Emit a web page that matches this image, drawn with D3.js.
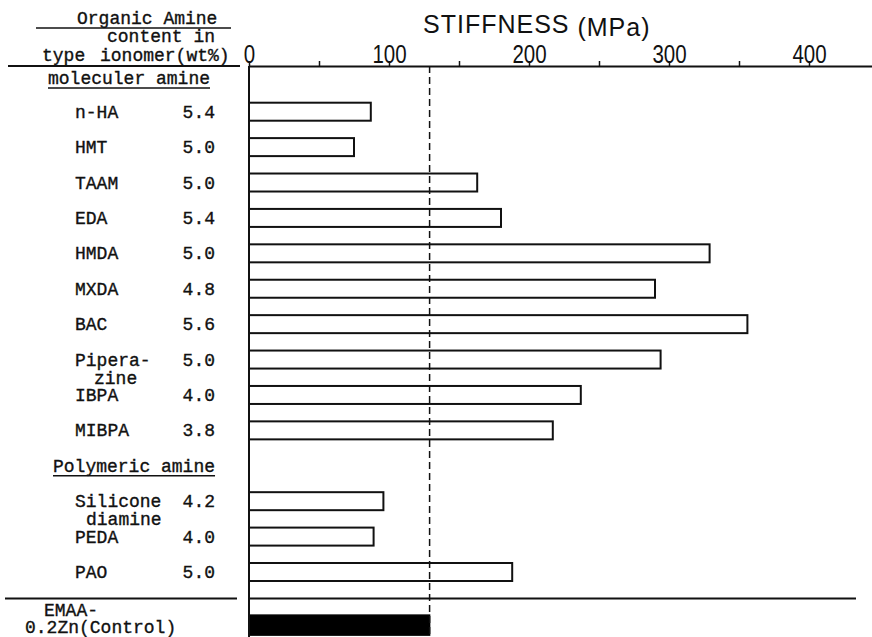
<!DOCTYPE html>
<html>
<head>
<meta charset="utf-8">
<script src="https://cdn.jsdelivr.net/npm/d3@7"></script>
<style>
  body { margin: 0; background: #fff; }
  .mono { font-family: "Liberation Mono", "DejaVu Sans Mono", monospace; font-size: 18px; fill: #111; stroke: #111; stroke-width: 0.35px; }
  .sans { font-family: "Liberation Sans", Arial, sans-serif; fill: #111; }
</style>
</head>
<body>
<svg id="chart"></svg>
<script>
// molecular amines
const molecularTypes = [["n-HA"], ["HMT"], ["TAAM"], ["EDA"], ["HMDA"], ["MXDA"], ["BAC"], ["Pipera-", "zine"], ["IBPA"], ["MIBPA"]];
const molecularContent = [5.4, 5.0, 5.0, 5.4, 5.0, 4.8, 5.6, 5.0, 4.0, 3.8];
const molecularStiffness = [87, 75, 163, 180, 329, 290, 356, 294, 237, 217];

// polymeric amines
const polymericTypes = [["Silicone", "diamine"], ["PEDA"], ["PAO"]];
const polymericContent = [4.2, 4.0, 5.0];
const polymericStiffness = [96, 89, 188];

// control
const controlType = ["EMAA-", "0.2Zn(Control)"];
const controlStiffness = 129;

const majorTicks = [0, 100, 200, 300, 400];
const minorTicks = [50, 150, 250, 350];

class StiffnessChart {

  constructor(_config) {
    this.config = {
      parentElement: _config.parentElement,
      containerWidth: _config.containerWidth || 872,
      containerHeight: _config.containerHeight || 637,
      axisX: 249,
      axisY: 66
    };
    this.initVis();
  }

  initVis() {
    let vis = this;
    const c = vis.config;

    vis.svg = d3.select(c.parentElement)
        .attr('width', c.containerWidth)
        .attr('height', c.containerHeight);

    // x: stiffness, 140px per 100 MPa
    vis.xScale = d3.scaleLinear()
        .domain([0, 445])
        .range([c.axisX, c.containerWidth]);

    // y: row index (header row for polymeric amine sits at index 10)
    vis.yScale = d3.scaleLinear()
        .domain([0, 13])
        .range([111.7, 572]);

    // build row table from the arrays
    vis.rows = [];
    molecularTypes.forEach((t, i) => vis.rows.push({ type: t, content: molecularContent[i], value: molecularStiffness[i], idx: i }));
    polymericTypes.forEach((t, i) => vis.rows.push({ type: t, content: polymericContent[i], value: polymericStiffness[i], idx: 11 + i }));
    vis.control = { type: controlType, value: controlStiffness, idx: 14.5 };
  }

  renderVis() {
    let vis = this;
    const c = vis.config;
    const x = vis.xScale, y = vis.yScale;

    // header on the left
    const head = vis.svg.append('g').attr('class', 'mono');
    head.append('text').attr('x', 77).attr('y', 24).text('Organic Amine');
    head.append('line').attr('x1', 36).attr('x2', 231).attr('y1', 28).attr('y2', 28)
        .attr('stroke', '#111').attr('stroke-width', 1.5);
    head.append('text').attr('x', 107).attr('y', 42).text('content in');
    head.append('text').attr('x', 42).attr('y', 61).text('type');
    head.append('text').attr('x', 100).attr('y', 61).text('ionomer(wt%)');
    head.append('line').attr('x1', 8).attr('x2', 240).attr('y1', c.axisY).attr('y2', c.axisY)
        .attr('stroke', '#111').attr('stroke-width', 2);

    // section headers
    const sections = [
      { label: 'moleculer amine', idx: -0.95, x: 48 },
      { label: 'Polymeric amine', idx: 10, x: 53 }
    ];
    sections.forEach(s => {
      const t = head.append('text').attr('x', s.x).attr('y', y(s.idx) + 6).text(s.label);
      const w = t.node().getComputedTextLength();
      head.append('line').attr('x1', s.x).attr('x2', s.x + w).attr('y1', y(s.idx) + 10).attr('y2', y(s.idx) + 10)
          .attr('stroke', '#111').attr('stroke-width', 1.5);
    });

    // row labels
    const labels = vis.svg.append('g').attr('class', 'mono');
    const secondX = { 'zine': 94, 'diamine': 86 };
    vis.rows.forEach(r => {
      r.type.forEach((line, k) => {
        labels.append('text')
            .attr('x', k === 0 ? 75 : secondX[line])
            .attr('y', y(r.idx) + 6 + k * 18)
            .text(line);
      });
      labels.append('text')
          .attr('x', 215)
          .attr('y', y(r.idx) + 6)
          .attr('text-anchor', 'end')
          .text(d3.format('.1f')(r.content));
    });
    labels.append('text').attr('x', 44).attr('y', 616).text(vis.control.type[0]);
    labels.append('text').attr('x', 25).attr('y', 633).text(vis.control.type[1]);

    // separator above control
    const sepY = y(13.75);
    vis.svg.append('line').attr('x1', 5).attr('x2', 237).attr('y1', sepY).attr('y2', sepY)
        .attr('stroke', '#111').attr('stroke-width', 2);
    vis.svg.append('line').attr('x1', c.axisX).attr('x2', 856).attr('y1', sepY).attr('y2', sepY)
        .attr('stroke', '#111').attr('stroke-width', 2);

    // bars
    const barH = 18;
    vis.svg.append('g').selectAll('.bar')
        .data(vis.rows)
      .join('rect')
        .attr('class', 'bar')
        .attr('x', x(0))
        .attr('y', d => y(d.idx) - barH / 2)
        .attr('width', d => x(d.value) - x(0))
        .attr('height', barH)
        .attr('fill', '#fff')
        .attr('stroke', '#111')
        .attr('stroke-width', 2);

    vis.svg.append('rect')
        .attr('x', x(0))
        .attr('y', y(vis.control.idx) - 10)
        .attr('width', x(vis.control.value) - x(0))
        .attr('height', 20)
        .attr('fill', '#000')
        .attr('stroke', '#000')
        .attr('stroke-width', 1.5);

    // dashed reference line at the control value
    vis.svg.append('line')
        .attr('x1', x(vis.control.value)).attr('x2', x(vis.control.value))
        .attr('y1', c.axisY).attr('y2', c.containerHeight)
        .attr('stroke', '#111').attr('stroke-width', 1.5)
        .attr('stroke-dasharray', '7,4');

    // vertical axis
    vis.svg.append('line')
        .attr('x1', c.axisX).attr('x2', c.axisX)
        .attr('y1', c.axisY).attr('y2', c.containerHeight)
        .attr('stroke', '#111').attr('stroke-width', 2);

    // top axis
    const xAxis = d3.axisTop(x)
        .tickValues(majorTicks.concat(minorTicks))
        .tickSize(5)
        .tickSizeOuter(0)
        .tickPadding(-2)
        .tickFormat(d => majorTicks.includes(d) ? d : '');

    const ax = vis.svg.append('g')
        .attr('transform', `translate(0,${c.axisY})`)
        .call(xAxis);
    ax.select('.domain').attr('stroke', '#111').attr('stroke-width', 2);
    ax.selectAll('.tick line').attr('stroke', '#111').attr('stroke-width', 1.5);
    ax.selectAll('.tick text')
        .attr('class', 'sans')
        .attr('font-size', 25)
        .attr('font-family', null)
        .attr('transform', 'scale(0.82,1)')
        .attr('fill', '#111');

    // title
    const title = vis.svg.append('text')
        .attr('class', 'sans')
        .attr('x', 423)
        .attr('y', 33)
        .attr('font-size', 25)
        .attr('letter-spacing', 1);
    title.append('tspan').text('STIFFNESS ');
    title.append('tspan').attr('dy', 3).text('(MPa)');
  }
}

const chart = new StiffnessChart({ parentElement: '#chart' });
chart.renderVis();
</script>
</body>
</html>
